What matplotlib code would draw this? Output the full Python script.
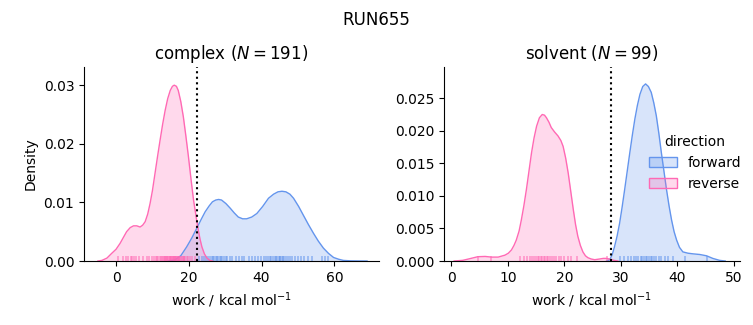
import numpy as np
import matplotlib
matplotlib.use("Agg")
import matplotlib.pyplot as plt
from matplotlib.patches import Patch
import matplotlib.transforms as mtransforms

# ---- data ----
suptitle = "RUN655"
phases = ["complex", "solvent"]
n_samples = [191, 99]
cutoffs = [22.2, 28.2]
directions = ["forward", "reverse"]
colors = {"forward": "#6495ED", "reverse": "#FF69B4"}

# complex, reverse density curve
cx_rev_x = [-5, -3.9, -2.5, -1.2, 0, 1.1, 2, 2.9, 3.9, 4.8, 5.7, 6.6, 7.3, 8.0, 8.7, 9.35,
            10.0, 10.7, 11.4, 12.1, 12.8, 13.5, 14.2, 14.9, 15.5, 16.0, 16.6, 17.1, 17.8,
            18.5, 19.2, 19.9, 20.6, 21.3, 22.0, 22.6, 23.1, 23.6, 24.3, 25.0, 25.8, 26.5]
cx_rev_y = [0, 0.0001, 0.0005, 0.0013, 0.002, 0.003, 0.004, 0.005, 0.0057, 0.006, 0.006,
            0.0058, 0.0061, 0.0067, 0.008, 0.0098, 0.012, 0.0149, 0.0178, 0.0206, 0.0233,
            0.0257, 0.0277, 0.0291, 0.0298, 0.0300, 0.0298, 0.0291, 0.0272, 0.0246, 0.0213,
            0.0178, 0.014, 0.0104, 0.0076, 0.0053, 0.0037, 0.0024, 0.0012, 0.0005, 0.0001, 0]
# complex, forward density curve
cx_fwd_x = [14.5, 16.2, 17.8, 19.4, 20.8, 22.2, 23.4, 24.5, 25.6, 26.5, 27.4, 28.2, 29.0,
            30.2, 31.4, 32.5, 33.6, 34.8, 35.9, 37.3, 38.7, 40.3, 41.9, 43.3, 44.5, 45.6,
            46.7, 47.8, 48.8, 50.2, 51.5, 52.9, 54.3, 55.6, 57.0, 58.4, 59.8, 61.2, 62.5,
            64.5, 67, 69]
cx_fwd_y = [0, 0.0002, 0.0009, 0.0024, 0.0039, 0.0056, 0.0071, 0.0084, 0.0094, 0.0101,
            0.0104, 0.0105, 0.0104, 0.0098, 0.009, 0.0082, 0.0075, 0.0072, 0.0072, 0.0075,
            0.0081, 0.0093, 0.0107, 0.0114, 0.0118, 0.0119, 0.0118, 0.0114, 0.0107, 0.0093,
            0.0078, 0.0062, 0.0047, 0.0034, 0.0022, 0.0013, 0.0006, 0.0003, 0.0001,
            0.00003, 0.00001, 0]
# solvent, reverse density curve
sv_rev_x = [0.5, 2, 3.0, 4.7, 6, 7.1, 8.3, 9.5, 10.1, 10.65, 11.1, 11.5, 12.0, 12.4, 12.85,
            13.3, 13.75, 14.2, 14.65, 15.1, 15.6, 16.1, 16.5, 16.85, 17.3, 17.7, 18.3, 18.9,
            19.4, 19.8, 20.25, 20.7, 21.15, 21.6, 22.0, 22.4, 22.85, 23.3, 23.75, 24.2,
            24.8, 25.4, 26.2, 26.9, 27.5, 28.0, 28.8, 29.5]
sv_rev_y = [0, 0.0001, 0.0003, 0.00066, 0.0007, 0.0006, 0.0006, 0.0009, 0.0012, 0.0017,
            0.0024, 0.0032, 0.0046, 0.0063, 0.0085, 0.011, 0.0138, 0.0166, 0.0189, 0.0207,
            0.0220, 0.0225, 0.0224, 0.0220, 0.0213, 0.0205, 0.0198, 0.0192, 0.0185, 0.0176,
            0.0158, 0.0135, 0.0107, 0.0079, 0.0056, 0.0038, 0.0024, 0.0014, 0.0008, 0.0005,
            0.0003, 0.0002, 0.0003, 0.0004, 0.0004, 0.0003, 0.0001, 0]
# solvent, forward density curve
sv_fwd_x = [27.5, 28.05, 28.5, 28.9, 29.35, 29.8, 30.25, 30.7, 31.15, 31.6, 32.05, 32.5,
            32.95, 33.4, 33.9, 34.4, 34.9, 35.4, 35.85, 36.3, 36.75, 37.2, 37.65, 38.1,
            38.55, 39.0, 39.45, 39.9, 40.4, 41.0, 41.9, 42.8, 44.0, 45.2, 46.3, 47.5, 48.5]
sv_fwd_y = [0, 0.0002, 0.001, 0.0022, 0.0038, 0.0058, 0.0083, 0.011, 0.0138, 0.0166,
            0.0193, 0.0218, 0.0239, 0.0256, 0.0268, 0.0272, 0.0268, 0.0259, 0.0243, 0.0223,
            0.0196, 0.0166, 0.0138, 0.011, 0.0085, 0.0063, 0.0045, 0.0032, 0.0021, 0.0014,
            0.0012, 0.0011, 0.001, 0.0008, 0.0004, 0.0001, 0]

# rug (individual work values, approximate)
cx_rev_rug = [0.5, 1.8, 2.6, 3.2, 4.1, 4.5, 4.9, 5.6, 6.3, 7.5, 8.4, 9.1, 9.8, 10.5, 11.0,
              11.3, 11.6, 12.1, 12.3, 12.5, 12.9, 13.2, 13.4, 13.5, 13.8, 14.0, 14.1, 14.3,
              14.6, 14.8, 14.9, 15.1, 15.2, 15.3, 15.6, 15.7, 15.8, 16.0, 16.1, 16.2, 16.5,
              16.6, 16.7, 16.9, 17.1, 17.2, 17.4, 17.7, 17.9, 18.0, 18.3, 18.6, 18.8, 19.0,
              19.4, 19.8, 20.3, 20.9, 21.6]
cx_fwd_rug = [22.8, 23.5, 24.1, 24.7, 25.3, 25.9, 26.4, 26.7, 27.0, 27.5, 27.8, 28.1, 28.6,
              28.9, 29.2, 29.8, 30.1, 30.5, 31.3, 32.0, 32.9, 33.8, 34.6, 35.2, 36.6, 37.4,
              38.3, 39.1, 39.9, 40.6, 41.3, 41.9, 42.2, 42.5, 43.1, 43.6, 43.9, 44.2, 44.7,
              45.0, 45.2, 45.7, 46.0, 46.2, 46.8, 47.3, 47.9, 48.5, 49.2, 50.0, 50.9, 51.8,
              52.8, 54.0, 56.5, 57.4, 58.3]
sv_rev_rug = [4.7, 7.1, 12.1, 12.8, 13.4, 13.9, 14.3, 14.7, 15.0, 15.3, 15.6, 15.9, 16.1,
              16.4, 16.6, 16.9, 17.2, 17.5, 17.8, 18.2, 18.6, 19.0, 19.5, 20.0, 20.6, 21.2,
              22.3, 27.5]
sv_fwd_rug = [29.8, 30.6, 31.2, 31.8, 32.3, 32.7, 33.1, 33.5, 33.8, 34.1, 34.4, 34.7, 35.0,
              35.3, 35.6, 35.9, 36.3, 36.7, 37.2, 37.8, 38.4, 39.2, 41.3, 45.2]

curves = {
    "complex": {"forward": (cx_fwd_x, cx_fwd_y, cx_fwd_rug),
                "reverse": (cx_rev_x, cx_rev_y, cx_rev_rug)},
    "solvent": {"forward": (sv_fwd_x, sv_fwd_y, sv_fwd_rug),
                "reverse": (sv_rev_x, sv_rev_y, sv_rev_rug)},
}

# ---- figure ----
fig = plt.figure(figsize=(7.53, 3.25), dpi=100)
ax_pos = [[0.1116, 0.1969, 0.3918, 0.597], [0.5896, 0.1969, 0.393, 0.597]]
xlims = [(-8.8, 72.3), (-1.3, 51.1)]
ylims = [(0, 0.0331), (0, 0.0298)]

for i, phase in enumerate(phases):
    ax = fig.add_axes(ax_pos[i])
    trans = mtransforms.blended_transform_factory(ax.transData, ax.transAxes)
    for d in directions:
        x, y, rug = curves[phase][d]
        c = colors[d]
        ax.fill_between(x, y, 0, color=c, alpha=0.25, linewidth=0)
        ax.plot(x, y, color=c, lw=1)
        ax.vlines(rug, 0, 0.028, colors=c, alpha=0.6, lw=1.2, transform=trans)
    ax.axvline(cutoffs[i], color="black", ls=":", lw=1.5)
    ax.set_xlim(*xlims[i])
    ax.set_ylim(*ylims[i])
    ax.spines["top"].set_visible(False)
    ax.spines["right"].set_visible(False)
    ax.set_title(f"{phase} ($N = {n_samples[i]}$)", fontsize=12)
    ax.set_xlabel("work / kcal mol$^{-1}$")
    if i == 0:
        ax.set_ylabel("Density")
        ax.set_yticks([0, 0.01, 0.02, 0.03])
    else:
        handles = [Patch(facecolor=matplotlib.colors.to_rgba(colors[d], 0.25),
                         edgecolor=colors[d], lw=1) for d in directions]
        ax.legend(handles, directions, title="direction", frameon=False,
                  loc="upper left", bbox_to_anchor=(0.65, 0.715))

fig.suptitle(suptitle, fontsize=12, y=0.965)
fig.savefig("out.png", dpi=100)
